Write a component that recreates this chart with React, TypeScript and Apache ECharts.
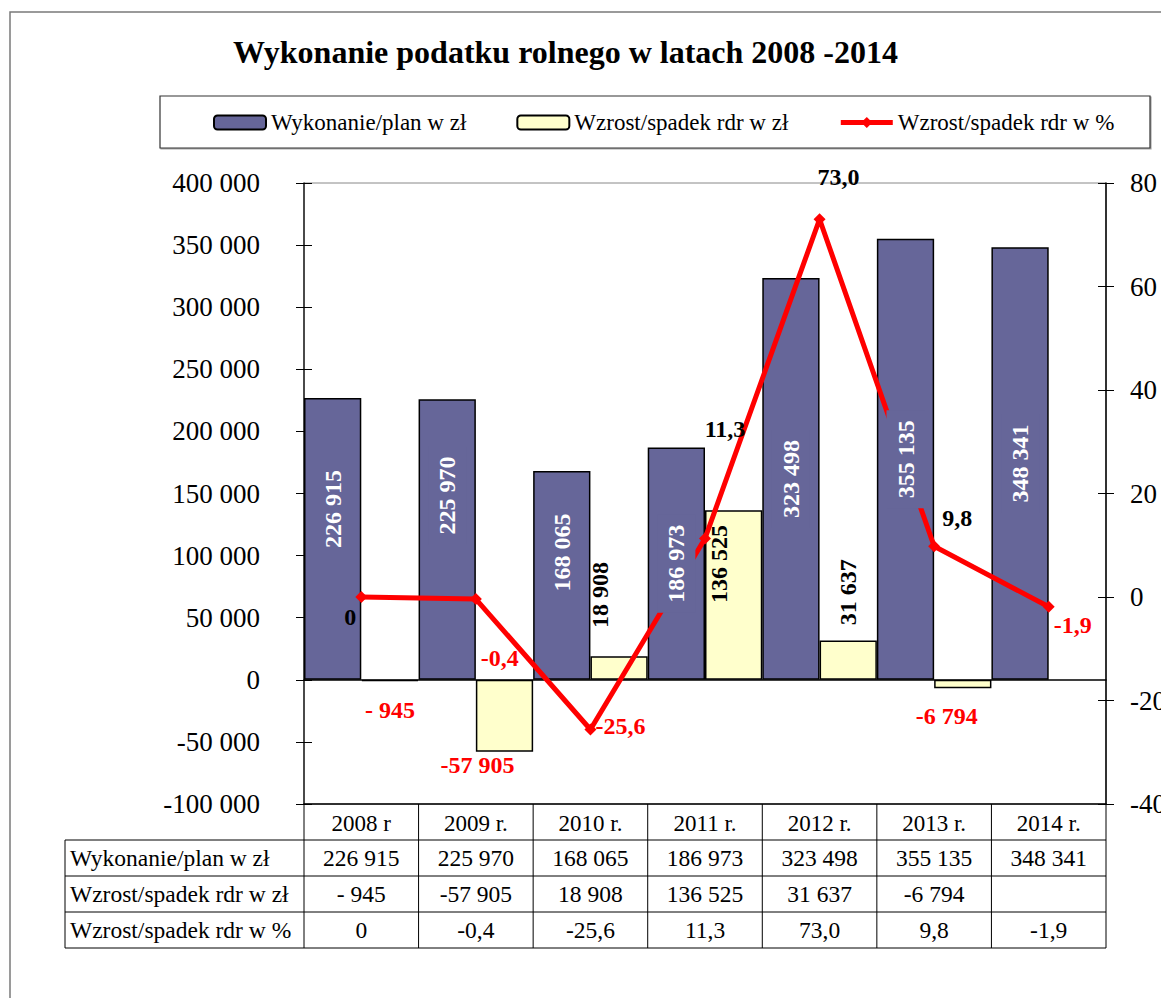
import React, { useEffect, useRef } from "react";
import * as echarts from "echarts";

// ---------- data ----------
const categories = ["2008 r", "2009 r.", "2010 r.", "2011 r.", "2012 r.", "2013 r.", "2014 r."];
const execution = [226915, 225970, 168065, 186973, 323498, 355135, 348341];
const change: (number | null)[] = [-945, -57905, 18908, 136525, 31637, -6794, null];
const changeLabels = ["- 945", "-57 905", "18 908", "136 525", "31 637", "-6 794", ""];
const changePct = [0, -0.4, -25.6, 11.3, 73.0, 9.8, -1.9];
const seriesNames = ["Wykonanie/plan w zł", "Wzrost/spadek rdr w zł", "Wzrost/spadek rdr w %"];
const titleText = "Wykonanie podatku rolnego w latach 2008 -2014";

// ---------- label placement tweaks (screen px) ----------
const execLabelShiftY = [-30, -44, -23, 0, 0, 0, 0];
const changeLabelShift: [number, number][] = [[0, 30], [-27, 49], [-19, -73], [-15, -31], [0, -68], [-16, 32], [0, 0]];
const pctLabelShift: [number, number][] = [[-11, 20], [24, 59], [30, -3], [20, -110], [19, -42], [23, -28], [24, 18]];

// ---------- layout ----------
const GL = 304, GT = 183, GW = 802, GH = 621;
const FONT = "'Liberation Serif', 'Times New Roman', serif";
const PURPLE = "#666699";
const YELLOW = "#FFFFCC";
const RED = "#FF0000";

const fmt = (v: number) => {
  const s = Math.abs(Math.round(v)).toString().replace(/\B(?=(\d{3})+(?!\d))/g, " ");
  return (v < 0 ? "-" : "") + s;
};
const fmtPct = (v: number) => (v === 0 ? "0" : v.toFixed(1).replace(".", ","));

// rotated (90deg) label: offset is applied in the text frame
const rotOffset = (sx: number, sy: number) => [-sy, sx];

export default function App() {
  const ref = useRef<HTMLDivElement>(null);
  useEffect(() => {
    if (!ref.current) return;
    const chart = echarts.init(ref.current, null, { renderer: "svg" });
    const colW = GW / categories.length;
    const tableTop = GT + GH; // 804
    const rowH = 36;
    const rowLabelX = 65;
    const rows = [
      { name: seriesNames[0], cells: execution.map(fmt) },
      { name: seriesNames[1], cells: changeLabels },
      { name: seriesNames[2], cells: changePct.map(fmtPct) },
    ];
    const graphics: any[] = [];
    graphics.push({
      type: "rect", z: 0, silent: true,
      shape: { x: 10, y: 12, width: 1300, height: 1200 },
      style: { fill: "none", stroke: "#7a7a7a", lineWidth: 1.5 },
    });
    graphics.push({
      type: "rect", z: 0, silent: true,
      shape: { x: 160, y: 96, width: 990, height: 52 },
      style: { fill: "#fff", stroke: "#333", lineWidth: 1.2, shadowColor: "rgba(0,0,0,0.35)", shadowOffsetX: 1, shadowOffsetY: 1, shadowBlur: 0 },
    });
    const tableBottom = tableTop + rowH * (rows.length + 1);
    for (let r = 1; r <= rows.length + 1; r++) {
      const y = tableTop + r * rowH;
      graphics.push({ type: "line", silent: true, shape: { x1: rowLabelX, y1: y, x2: GL + GW, y2: y }, style: { stroke: "#000", lineWidth: 1 } });
    }
    graphics.push({ type: "line", silent: true, shape: { x1: rowLabelX, y1: tableTop + rowH, x2: rowLabelX, y2: tableBottom }, style: { stroke: "#000", lineWidth: 1 } });
    for (let c = 0; c <= categories.length; c++) {
      const x = GL + c * colW;
      graphics.push({ type: "line", silent: true, shape: { x1: x, y1: tableTop, x2: x, y2: tableBottom }, style: { stroke: "#000", lineWidth: 1 } });
    }
    rows.forEach((row, r) => {
      const yc = tableTop + (r + 1) * rowH + rowH / 2;
      graphics.push({
        type: "text", silent: true, x: rowLabelX + 5, y: yc,
        style: { text: row.name, fontSize: 23.5, fontFamily: FONT, fill: "#000", align: "left", verticalAlign: "middle" },
      });
      row.cells.forEach((t, c) => {
        graphics.push({
          type: "text", silent: true, x: GL + (c + 0.5) * colW, y: yc,
          style: { text: t, fontSize: 23.5, fontFamily: FONT, fill: "#000", align: "center", verticalAlign: "middle" },
        });
      });
    });

    const valueLabelBase = { fontFamily: FONT, fontSize: 24, fontWeight: "bold" };

    chart.setOption({
      animation: false,
      textStyle: { fontFamily: FONT },
      title: {
        text: titleText, left: 233, top: 36, padding: 0,
        textStyle: { fontFamily: FONT, fontSize: 32, fontWeight: "bold", color: "#000" },
      },
      legend: {
        left: 213, top: 111, padding: 0, itemGap: 50, itemWidth: 52, itemHeight: 14,
        textStyle: { fontFamily: FONT, fontSize: 23, color: "#000" },
        data: [
          { name: seriesNames[0] },
          { name: seriesNames[1] },
          { name: seriesNames[2], lineStyle: { width: 5 } },
        ],
      },
      graphic: graphics,
      grid: {
        left: GL, top: GT, width: GW, height: GH, show: true, borderColor: "#888", borderWidth: 1,
        backgroundColor: "transparent", outerBoundsMode: "none", containLabel: false,
      },
      xAxis: [
        {
          type: "category", data: categories, gridIndex: 0,
          axisLine: { onZero: true, onZeroAxisIndex: 0, lineStyle: { color: "#000", width: 1.5 } },
          axisTick: { show: false }, axisLabel: { show: false }, splitLine: { show: false },
        },
        {
          type: "category", data: categories, gridIndex: 0, position: "bottom",
          axisLine: { onZero: false, lineStyle: { color: "#000", width: 1.5 } },
          axisTick: { show: false },
          axisLabel: { margin: 8, fontSize: 23, fontFamily: FONT, color: "#000" },
        },
      ],
      yAxis: [
        {
          type: "value", min: -100000, max: 400000, interval: 50000, position: "left",
          axisLine: { show: true, lineStyle: { color: "#222", width: 1.5 } },
          axisTick: { show: true, length: 8, lineStyle: { color: "#000" } },
          axisLabel: { margin: 44, fontSize: 27, fontFamily: FONT, color: "#000", formatter: (v: number) => fmt(v) },
          splitLine: { show: false },
        },
        {
          type: "value", min: -40, max: 80, interval: 20, position: "right",
          axisLine: { show: true, lineStyle: { color: "#000", width: 1.5 } },
          axisTick: { show: true, length: 8, lineStyle: { color: "#000" } },
          axisLabel: { margin: 24, fontSize: 27, fontFamily: FONT, color: "#000" },
          splitLine: { show: false },
        },
        {
          type: "value", min: -100000, max: 400000, interval: 50000, position: "left",
          axisLine: { show: false }, axisTick: { show: true, inside: true, length: 8, lineStyle: { color: "#000" } },
          axisLabel: { show: false }, splitLine: { show: false },
        },
        {
          type: "value", min: -40, max: 80, interval: 20, position: "right",
          axisLine: { show: false }, axisTick: { show: true, inside: true, length: 8, lineStyle: { color: "#000" } },
          axisLabel: { show: false }, splitLine: { show: false },
        },
      ],
      series: [
        {
          name: seriesNames[0], type: "bar", xAxisIndex: 0, yAxisIndex: 0, z: 2,
          barGap: "0%", barCategoryGap: "0%",
          itemStyle: { color: PURPLE, borderColor: "#000", borderWidth: 1.5 },
          data: execution,
        },
        {
          name: seriesNames[1], type: "bar", xAxisIndex: 0, yAxisIndex: 0, z: 2,
          barGap: "0%", barCategoryGap: "0%",
          itemStyle: { color: YELLOW, borderColor: "#000", borderWidth: 1.5 },
          data: change,
        },
        {
          name: seriesNames[2], type: "line", xAxisIndex: 0, yAxisIndex: 1, z: 3,
          symbol: "diamond", symbolSize: [12, 12],
          lineStyle: { color: RED, width: 5 },
          itemStyle: { color: RED },
          data: changePct.map((v, i) => ({
            value: v,
            label: {
              show: true, position: "inside", offset: pctLabelShift[i],
              formatter: fmtPct(v), color: v < 0 ? RED : "#000", ...valueLabelBase,
            },
          })),
        },
        // label carriers drawn above the line (same layout on the twin category axis)
        {
          name: "labels-exec", type: "bar", xAxisIndex: 1, yAxisIndex: 0, z: 4, silent: true,
          barGap: "0%", barCategoryGap: "0%",
          itemStyle: { color: "transparent", borderWidth: 0 },
          data: execution.map((v, i) => ({
            value: v,
            label: {
              show: true, position: "inside", rotate: 90, align: "center", verticalAlign: "middle",
              offset: rotOffset(0, execLabelShiftY[i]),
              formatter: fmt(v), color: "#fff", ...valueLabelBase,
              backgroundColor: PURPLE, padding: [7, 10],
            },
          })),
        },
        {
          name: "labels-change", type: "bar", xAxisIndex: 1, yAxisIndex: 0, z: 4, silent: true,
          barGap: "0%", barCategoryGap: "0%",
          itemStyle: { color: "transparent", borderWidth: 0 },
          data: change.map((v, i) => {
            if (v === null) return { value: null };
            const neg = v < 0;
            const [sx, sy] = changeLabelShift[i];
            return {
              value: v,
              label: neg
                ? { show: true, position: "inside", formatter: changeLabels[i], color: RED, offset: [sx, sy], ...valueLabelBase }
                : {
                    show: true, position: "inside", rotate: 90, align: "center", verticalAlign: "middle",
                    formatter: changeLabels[i], color: "#000", offset: rotOffset(sx, sy), ...valueLabelBase,
                  },
            };
          }),
        },
      ],
    });
    return () => chart.dispose();
  }, []);
  return <div ref={ref} style={{ position: "absolute", left: 0, top: 0, width: 1161, height: 998 }} />;
}
